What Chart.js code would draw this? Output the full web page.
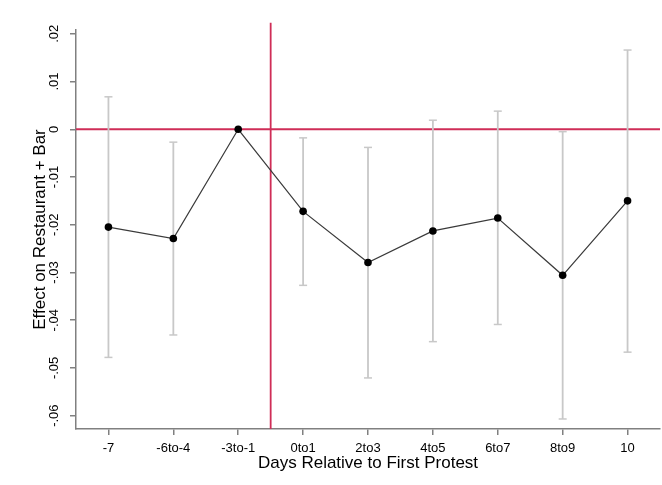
<!DOCTYPE html>
<html>
<head>
<meta charset="utf-8">
<script src="https://cdn.jsdelivr.net/npm/chart.js@4/dist/chart.umd.min.js"></script>
<style>
  body { margin: 0; background: #fff; }
  #wrap { width: 662px; height: 485px; }
</style>
</head>
<body>
<div id="wrap"><canvas id="eventChart"></canvas></div>
<script>
// categories on the x axis
const categories = ['-7', '-6to-4', '-3to-1', '0to1', '2to3', '4to5', '6to7', '8to9', '10'];
// point estimates and 95% CI (the -3to-1 period is the omitted base)
const estimates = [-0.0205, -0.0229, 0, -0.0172, -0.0279, -0.0213, -0.0186, -0.0306, -0.0150];
const ciUpper = [0.0068, -0.0027, null, -0.0018, -0.0038, 0.0019, 0.0038, -0.0005, 0.0166];
const ciLower = [-0.0478, -0.0431, null, -0.0327, -0.0521, -0.0445, -0.0409, -0.0607, -0.0467];
// y axis ticks as Stata prints them
const yTicks = [0.02, 0.01, 0, -0.01, -0.02, -0.03, -0.04, -0.05, -0.06];
const yTickLabels = ['.02', '.01', '0', '-.01', '-.02', '-.03', '-.04', '-.05', '-.06'];
// first protest sits between -3to-1 and 0to1
const protestAt = 2.5;

const yMin = -0.0628, yMax = 0.0208, yLineTop = 0.0223;
const red = '#cf2d57';
const gray = '#c8c8c8';
const axisColor = '#808080';

const datasets = [];

// main estimates
datasets.push({
    data: estimates.map((v, i) => ({ x: i, y: v })),
    borderColor: '#3a3a3a',
    borderWidth: 1.2,
    pointRadius: 3.8,
    pointBackgroundColor: '#000',
    pointBorderColor: '#000',
    pointBorderWidth: 0,
    order: 1
});

// confidence intervals, one small dataset each so they stay separate
categories.forEach((c, i) => {
    if (ciUpper[i] === null) return;
    datasets.push({
        data: [{ x: i, y: ciLower[i] }, { x: i, y: ciUpper[i] }],
        borderColor: gray,
        borderWidth: 1.8,
        pointStyle: 'line',
        pointRadius: 4,
        pointBorderColor: gray,
        pointBorderWidth: 1.5,
        order: 2
    });
});

// reference lines
datasets.push({
    data: [{ x: -0.5, y: 0 }, { x: categories.length - 0.5, y: 0 }],
    borderColor: red,
    borderWidth: 1.8,
    pointRadius: 0,
    order: 3
});
datasets.push({
    data: [{ x: protestAt, y: yMin }, { x: protestAt, y: yLineTop }],
    borderColor: red,
    borderWidth: 1.8,
    pointRadius: 0,
    clip: false,
    order: 3
});

new Chart(document.getElementById('eventChart').getContext('2d'), {
    type: 'line',
    data: { datasets: datasets },
    options: {
        responsive: true,
        maintainAspectRatio: false,
        animation: false,
        layout: { autoPadding: false, padding: { top: 30, right: 2, left: 0, bottom: 0 } },
        plugins: {
            legend: { display: false },
            tooltip: { enabled: false }
        },
        scales: {
            x: {
                type: 'linear',
                min: -0.5,
                max: categories.length - 0.5,
                afterBuildTicks: (scale) => {
                    scale.ticks = categories.map((c, i) => ({ value: i }));
                },
                afterFit: (scale) => { scale.height = 56; },
                grid: { drawOnChartArea: false, drawTicks: true, tickLength: 6, color: axisColor, lineWidth: 1.5 },
                border: { display: true, color: axisColor, width: 1.5 },
                ticks: {
                    padding: 6,
                    maxRotation: 0,
                    color: '#000',
                    font: { family: 'Liberation Sans, Arial, sans-serif', size: 13 },
                    callback: (v, i) => categories[i]
                },
                title: {
                    display: true,
                    text: 'Days Relative to First Protest',
                    color: '#000',
                    font: { family: 'Liberation Sans, Arial, sans-serif', size: 17 },
                    padding: { top: 0, bottom: 11 }
                }
            },
            y: {
                min: yMin,
                max: yMax,
                afterBuildTicks: (scale) => {
                    scale.ticks = yTicks.map(v => ({ value: v }));
                },
                afterFit: (scale) => { scale.width = 76; },
                grid: { drawOnChartArea: false, drawTicks: true, tickLength: 6, color: axisColor, lineWidth: 1.5 },
                border: { display: true, color: axisColor, width: 1.5 },
                ticks: {
                    minRotation: 90,
                    maxRotation: 90,
                    crossAlign: 'center',
                    padding: 4,
                    color: '#000',
                    font: { family: 'Liberation Sans, Arial, sans-serif', size: 13 },
                    callback: (v, i) => yTickLabels[i]
                },
                title: {
                    display: true,
                    text: 'Effect on Restaurant + Bar',
                    color: '#000',
                    font: { family: 'Liberation Sans, Arial, sans-serif', size: 17 },
                    padding: { top: 30, bottom: 0 }
                }
            }
        }
    }
});
</script>
</body>
</html>
